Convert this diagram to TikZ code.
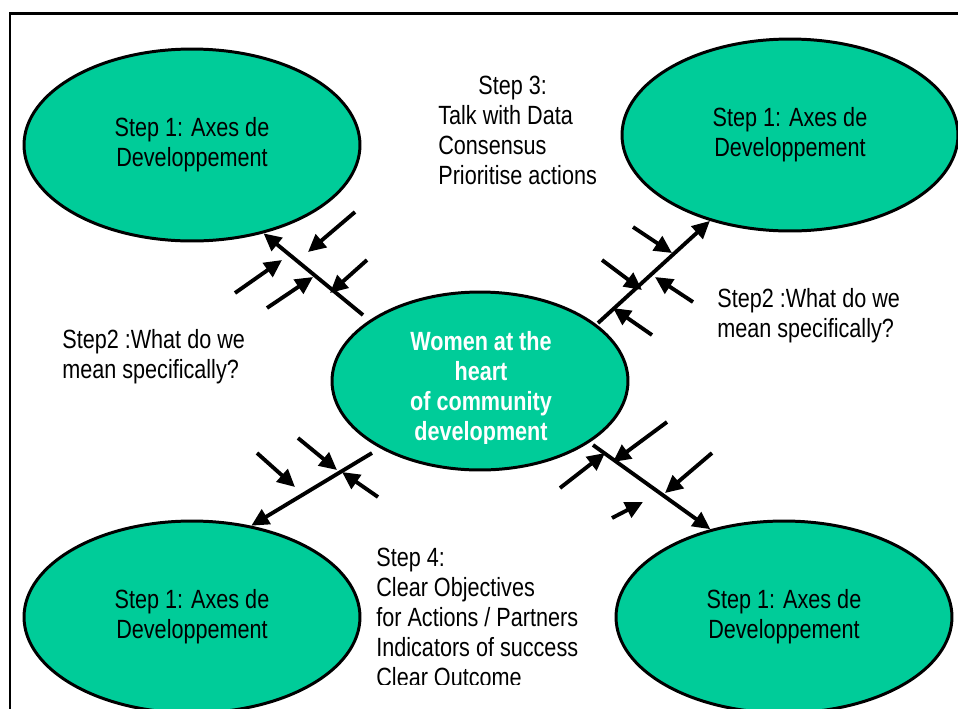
\documentclass[tikz,border=0pt]{standalone}
\usepackage{fontspec}
\setmainfont{Liberation Sans}[FakeStretch=0.82]
\usetikzlibrary{shapes.geometric, arrows.meta}
\definecolor{axisgreen}{RGB}{0,204,153}
\tikzset{
    x=0.02cm, y=-0.02cm, % one unit is one pixel of the sketch
    every node/.style={ % Sets the text of each node
        font=\fontsize{15}{17}\selectfont,
        inner sep=0pt
    },
    axis/.style={ % The four outer ellipses
        ellipse, draw, line width=1.7pt, fill=axisgreen,
        minimum width=6.72cm, minimum height=3.84cm, align=center
    },
    hub/.style={ % The centre ellipse
        ellipse, draw, line width=1.7pt, fill=axisgreen,
        minimum width=5.92cm, minimum height=3.56cm
    },
    note/.style={align=left, anchor=north west},
    >={Triangle[length=10pt, width=9.5pt]}, % Filled heads
    spoke/.style={->, line width=2.2pt},
    feed/.style={->, line width=2.2pt}
}
\begin{document}
\begin{tikzpicture}
    \useasboundingbox (0,0) rectangle (958,708);
    \draw[line width=1.7pt] (10,710) -- (10,13) -- (960,13);

    \node[axis] (tl) at (192,145) {Step 1: Axes de\\Developpement};
    \node[axis] (tr) at (790,135) {Step 1: Axes de\\Developpement};
    \node[axis] (bl) at (192,617) {Step 1: Axes de\\Developpement};
    \node[axis] (br) at (784,617) {Step 1: Axes de\\Developpement};
    \node[hub]  (hub) at (480,381) {};
    \begin{scope}
        \clip (332,292) rectangle (628,443);
        \node[text=white, align=center, anchor=north,
              font=\fontsize{15}{17}\selectfont\bfseries] (hubtext) at (481,331)
              {Women at the\\heart\\of community\\development};
    \end{scope}

    \node[note] (step3) at (438,76)
        {\hspace*{0.8cm}Step 3:\\Talk with Data\\Consensus\\Prioritise actions};
    \node[note] (leftq)  at (62,329)  {Step2 :What do we\\mean specifically?};
    \node[note] (rightq) at (717,288) {Step2 :What do we\\mean specifically?};
    \begin{scope}
        \clip (360,540) rectangle (620,684);
        \node[note] (step4) at (376,548)
            {Step 4:\\Clear Objectives\\for Actions / Partners\\Indicators of success\\Clear Outcome};
    \end{scope}

    % spokes from the centre to each axis
    \coordinate (tlfoot) at (363,315);
    \coordinate (trfoot) at (598,323);
    \coordinate (blfoot) at (372,453);
    \coordinate (brfoot) at (593,445);
    \draw[spoke] (tlfoot) -- (tl.-51);
    \draw[spoke] (trfoot) -- (tr.-133);
    \draw[spoke] (blfoot) -- (bl.57);
    \draw[spoke] (brfoot) -- (br.130);

    % small arrows feeding each spoke
    \foreach \x/\y/\u/\v [count=\i] in {
        355/212/308/252, 367/260/330/293, 235/293/282/260, 267/308/313/277,
        633/227/672/253, 602/260/642/290, 693/302/655/277, 652/335/613/308,
        257/453/295/487, 298/438/337/470, 378/497/342/472,
        667/422/613/462, 712/453/665/493, 560/488/605/453, 612/518/643/502} {
        \coordinate (from\i) at (\x,\y);
        \coordinate (to\i) at (\u,\v);
        \draw[feed] (from\i) -- (to\i);
    }
\end{tikzpicture}
\end{document}
